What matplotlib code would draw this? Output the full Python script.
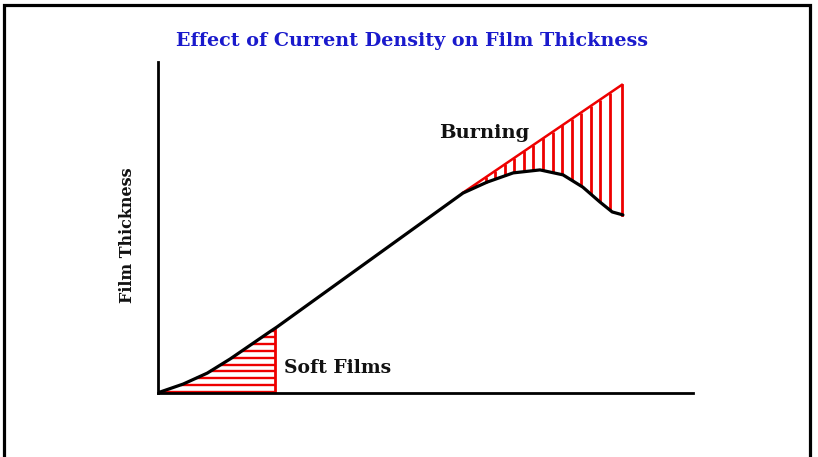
import numpy as np
import matplotlib
matplotlib.use("Agg")
import matplotlib.pyplot as plt
from matplotlib.patches import Rectangle

# Curve: film thickness vs current density (arbitrary units 0-100)
curve_x = [0, 0.4, 4.7, 9.2, 13.5, 17.2, 20.9, 22.2, 57.0, 61.5, 66.4, 71.4,
           75.7, 79.4, 82.6, 84.9, 86.9]
curve_y = [0, 0.3, 2.7, 6.0, 10.3, 14.4, 18.5, 19.9, 60.4, 63.7, 66.5, 67.4,
           65.9, 62.2, 57.7, 54.7, 53.8]
# Ideal (linear) extension into burning region
burn_x = [57.0, 86.7]
burn_y = [60.5, 93.1]
soft_end = 21.9

title = "Effect of Current Density on Film Thickness"
ylabel = "Film Thickness"
label_burning = "Burning"
label_soft = "Soft Films"

W, H = 818, 457
fig = plt.figure(figsize=(W / 100, H / 100), dpi=100)
ax = fig.add_axes([158 / W, 1 - 393 / H, 535 / W, 331 / H])
ax.set_xlim(0, 100)
ax.set_ylim(0, 100)
for s in ["top", "right"]:
    ax.spines[s].set_visible(False)
for s in ["left", "bottom"]:
    ax.spines[s].set_linewidth(2.0)
    ax.spines[s].set_color("black")
ax.set_xticks([])
ax.set_yticks([])

red = "#ee0000"
cx = np.array(curve_x)
cy = np.array(curve_y)
# Soft films: horizontal hatch between curve and vertical line
soft_top = np.interp(soft_end, cx, cy)
for yy in np.arange(0.4, soft_top, 2.05):
    xl = np.interp(yy, cy[:9], cx[:9])
    ax.plot([xl, soft_end], [yy, yy], color=red, lw=1.7, solid_capstyle="butt", zorder=2)
ax.plot([soft_end, soft_end], [0, soft_top], color=red, lw=2.0, zorder=2)

# Burning: vertical hatch between curve and ideal line
for xx in np.arange(59.5, burn_x[1] - 0.9, 1.78):
    yl = np.interp(xx, cx, cy)
    yu = np.interp(xx, burn_x, burn_y)
    ax.plot([xx, xx], [yl, yu], color=red, lw=2.0, solid_capstyle="butt", zorder=2)
ax.plot([burn_x[1], burn_x[1]], [np.interp(burn_x[1], cx, cy), burn_y[1]],
        color=red, lw=2.0, zorder=2)
ax.plot(burn_x, burn_y, color=red, lw=1.8, zorder=2)

ax.plot(curve_x, curve_y, color="black", lw=2.3, zorder=3,
        solid_joinstyle="round", solid_capstyle="round")

ax.text(52.5, 78.5, label_burning, fontsize=14, fontweight="bold",
        family="DejaVu Serif", color="#111111", ha="left", va="center")
ax.text(23.5, 7.5, label_soft, fontsize=13.5, fontweight="bold",
        family="DejaVu Serif", color="#111111", ha="left", va="center")

fig.text(128 / W, 1 - 235 / H, ylabel, rotation=90, fontsize=11.5, fontweight="bold",
         family="DejaVu Serif", color="#111111", ha="center", va="center")
fig.text(412 / W, 1 - 41 / H, title, fontsize=13.8, fontweight="bold",
         family="DejaVu Serif", color="#1a1acc", ha="center", va="center")

fig.patches.append(Rectangle((3.5 / W, -0.05), 806 / W, 1.05 - 4.5 / H,
                             transform=fig.transFigure, fill=False,
                             edgecolor="black", lw=2.3, zorder=10))

fig.savefig("out.png", dpi=100)
